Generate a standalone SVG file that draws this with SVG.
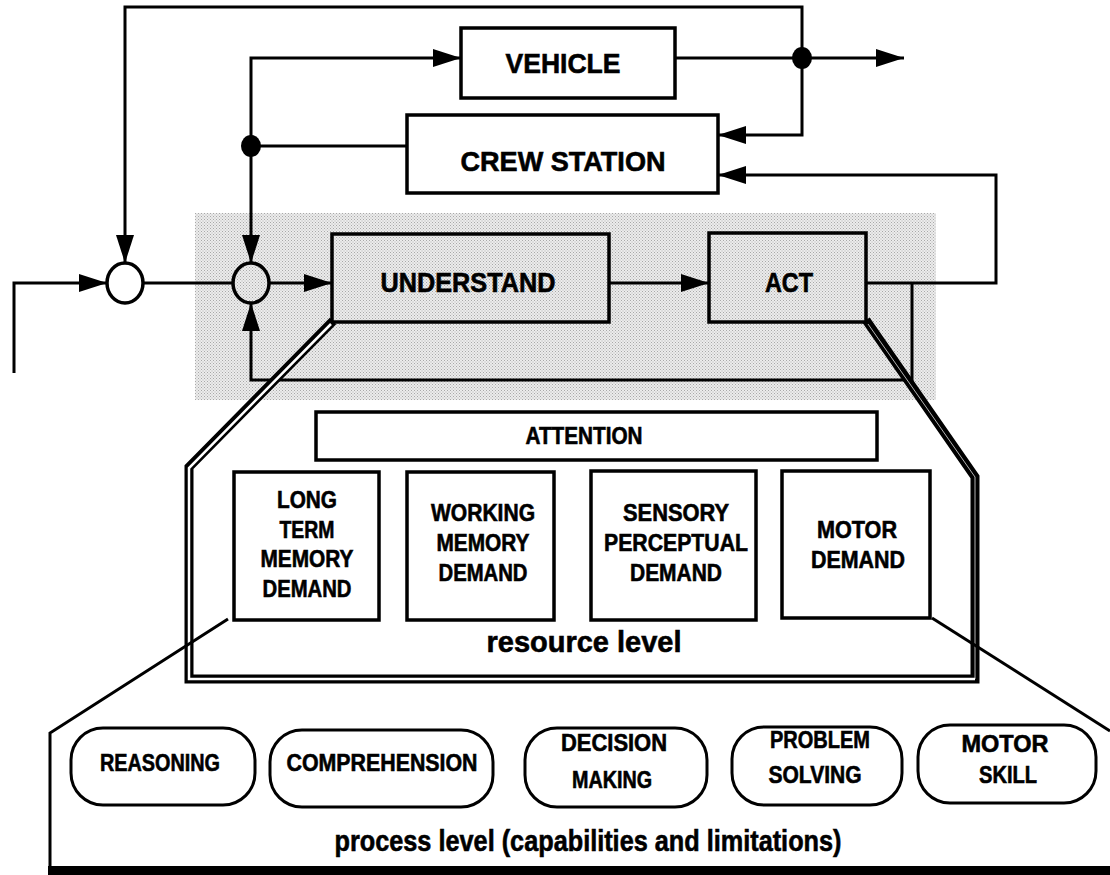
<svg xmlns="http://www.w3.org/2000/svg" width="1110" height="875" viewBox="0 0 1110 875">
<defs>
<marker id="ah" markerUnits="userSpaceOnUse" markerWidth="30" markerHeight="20" refX="28" refY="10" orient="auto"><path d="M0,1 L28,10 L0,19 Z" fill="#000"/></marker>
<pattern id="stip" width="3" height="3" patternUnits="userSpaceOnUse"><rect width="3" height="3" fill="#ececec"/><rect width="1" height="1" fill="#a8a8a8"/><rect x="1.5" y="1.5" width="1" height="1" fill="#b0b0b0"/></pattern>
<style>
.box{fill:#fff;stroke:#000;stroke-width:3.5}
.gbox{fill:none;stroke:#000;stroke-width:3.5}
.ln{fill:none;stroke:#000;stroke-width:3}
.dbl{fill:none;stroke:#000;stroke-width:9;stroke-linejoin:miter}
.dbli{fill:none;stroke:#fff;stroke-width:2.5;stroke-linejoin:miter}
.dblr{fill:none;stroke:#fff;stroke-width:1;stroke-opacity:0.7}
.pill{fill:#fff;stroke:#000;stroke-width:3}
.t{font-family:"Liberation Sans",Arial,sans-serif;font-weight:bold;fill:#000;stroke:#000;stroke-width:0.6;text-anchor:middle}
.big{font-size:28px}
.sm{font-size:24px}
.lv{font-size:30px}
</style>
</defs>
<rect width="1110" height="875" fill="#fff"/>
<rect id="shade" x="195" y="213" width="741" height="187" fill="url(#stip)"/>

<g id="connectors" class="ln">
<path d="M14,373 V283 H107" marker-end="url(#ah)"/>
<path d="M143,283 H233"/>
<path d="M269,283 H332" marker-end="url(#ah)"/>
<path d="M609,283 H709" marker-end="url(#ah)"/>
<path d="M866,283 H996 V175 H718" marker-end="url(#ah)"/>
<path d="M912,283 V380 H251 V303" marker-end="url(#ah)"/>
<path d="M802,58 V7 H125 V263" marker-end="url(#ah)"/>
<path d="M675,58 H904" marker-end="url(#ah)"/>
<path d="M802,58 V135 H718" marker-end="url(#ah)"/>
<path d="M407,146 H251"/>
<path d="M251,146 V58 H461" marker-end="url(#ah)"/>
<path d="M251,146 V263" marker-end="url(#ah)"/>
<ellipse cx="802" cy="58" rx="10" ry="11" fill="#000" stroke="none"/>
<ellipse cx="251" cy="146" rx="10" ry="11" fill="#000" stroke="none"/>
</g>

<g id="sum1"><ellipse cx="125" cy="283" rx="18" ry="20" fill="#fff" stroke="#000" stroke-width="3.5"/></g>
<g id="sum2"><ellipse cx="251" cy="283" rx="18" ry="20" fill="none" stroke="#000" stroke-width="3.5"/></g>

<g id="vehicle"><rect class="box" x="461" y="28" width="214" height="70"/><text class="t big" x="563" y="73" textLength="115" lengthAdjust="spacingAndGlyphs">VEHICLE</text></g>
<g id="crew"><rect class="box" x="407" y="115" width="311" height="78"/><text class="t big" x="563" y="171" textLength="205" lengthAdjust="spacingAndGlyphs">CREW STATION</text></g>
<g id="understand"><rect class="gbox" x="332" y="234" width="277" height="88"/><text class="t" font-size="27" x="468" y="292" textLength="175" lengthAdjust="spacingAndGlyphs">UNDERSTAND</text></g>
<g id="act"><rect class="gbox" x="709" y="233" width="157" height="89"/><text class="t" font-size="27" x="789" y="292" textLength="48" lengthAdjust="spacingAndGlyphs">ACT</text></g>

<g id="resource-frame">
<path class="dbl" d="M333,321 L189,467 V679 H975 V477 L866,320"/>
<path class="dbli" d="M331,324 L189,468 V679 H975"/>
<path class="dblr" d="M975,679 V477 L868,324"/>
<text class="t lv" x="584" y="652" textLength="195" lengthAdjust="spacingAndGlyphs">resource  level</text>
</g>

<g id="attention"><rect class="box" x="316" y="412" width="561" height="48"/><text class="t sm" x="584" y="444" textLength="117" lengthAdjust="spacingAndGlyphs">ATTENTION</text></g>
<g id="ltm"><rect class="box" x="234" y="472" width="145" height="148"/>
<text class="t sm" x="307" y="508" textLength="60" lengthAdjust="spacingAndGlyphs">LONG</text>
<text class="t sm" x="307" y="538" textLength="55" lengthAdjust="spacingAndGlyphs">TERM</text>
<text class="t sm" x="307" y="567" textLength="93" lengthAdjust="spacingAndGlyphs">MEMORY</text>
<text class="t sm" x="307" y="597" textLength="89" lengthAdjust="spacingAndGlyphs">DEMAND</text></g>
<g id="wm"><rect class="box" x="407" y="472" width="147" height="148"/>
<text class="t sm" x="483" y="521" textLength="104" lengthAdjust="spacingAndGlyphs">WORKING</text>
<text class="t sm" x="483" y="551" textLength="93" lengthAdjust="spacingAndGlyphs">MEMORY</text>
<text class="t sm" x="483" y="581" textLength="89" lengthAdjust="spacingAndGlyphs">DEMAND</text></g>
<g id="sp"><rect class="box" x="591" y="471" width="165" height="149"/>
<text class="t sm" x="676" y="521" textLength="106" lengthAdjust="spacingAndGlyphs">SENSORY</text>
<text class="t sm" x="676" y="551" textLength="144" lengthAdjust="spacingAndGlyphs">PERCEPTUAL</text>
<text class="t sm" x="676" y="581" textLength="92" lengthAdjust="spacingAndGlyphs">DEMAND</text></g>
<g id="md"><rect class="box" x="782" y="471" width="148" height="147"/>
<text class="t sm" x="857" y="538" textLength="80" lengthAdjust="spacingAndGlyphs">MOTOR</text>
<text class="t sm" x="858" y="568" textLength="94" lengthAdjust="spacingAndGlyphs">DEMAND</text></g>

<g id="process-frame">
<path class="ln" d="M228,619 L50,733 V870"/>
<path class="ln" d="M932,618 L1110,731"/>
<rect x="48" y="866" width="1062" height="9" fill="#000"/>
<text class="t lv" x="588" y="851" textLength="507" lengthAdjust="spacingAndGlyphs">process level (capabilities and limitations)</text>
</g>

<g id="reasoning"><rect class="pill" x="71" y="728" width="184" height="77" rx="32"/><text class="t sm" x="160" y="771" textLength="120" lengthAdjust="spacingAndGlyphs">REASONING</text></g>
<g id="comprehension"><rect class="pill" x="270" y="730" width="223" height="77" rx="32"/><text class="t sm" x="382" y="771" textLength="191" lengthAdjust="spacingAndGlyphs">COMPREHENSION</text></g>
<g id="decision"><rect class="pill" x="525" y="728" width="182" height="79" rx="32"/><text class="t sm" x="614" y="751" textLength="106" lengthAdjust="spacingAndGlyphs">DECISION</text><text class="t sm" x="612" y="788" textLength="80" lengthAdjust="spacingAndGlyphs">MAKING</text></g>
<g id="problem"><rect class="pill" x="732" y="727" width="170" height="78" rx="32"/><text class="t sm" x="820" y="748" textLength="100" lengthAdjust="spacingAndGlyphs">PROBLEM</text><text class="t sm" x="815" y="783" textLength="93" lengthAdjust="spacingAndGlyphs">SOLVING</text></g>
<g id="motorskill"><rect class="pill" x="918" y="725" width="178" height="78" rx="32"/><text class="t sm" x="1005" y="752" textLength="87" lengthAdjust="spacingAndGlyphs">MOTOR</text><text class="t sm" x="1008" y="783" textLength="58" lengthAdjust="spacingAndGlyphs">SKILL</text></g>
</svg>
